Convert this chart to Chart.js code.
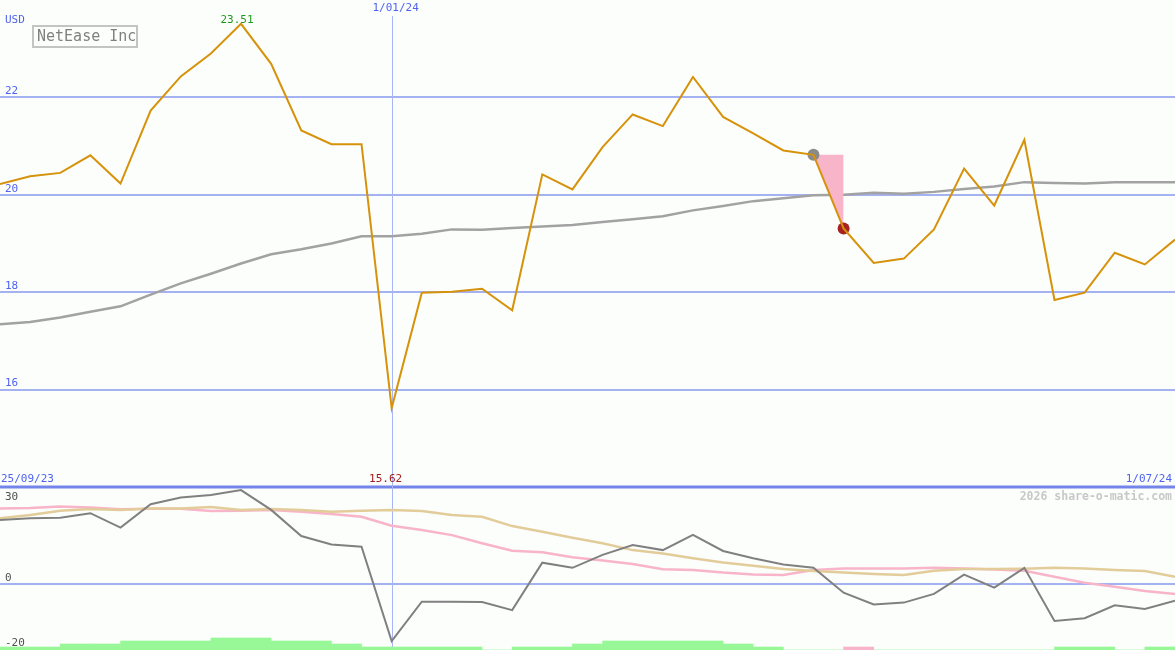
<!DOCTYPE html>
<html>
<head>
<meta charset="utf-8">
<script src="https://cdn.jsdelivr.net/npm/chart.js@4/dist/chart.umd.min.js"></script>
<style>
  html,body{margin:0;padding:0;background:#fcfefc}
  #wrap{position:relative;width:1175px;height:650px}
</style>
</head>
<body>
<div id="wrap"><canvas id="c" width="1175" height="650"></canvas></div>
<script>
// 週足データ（インデックス 0..39）
const price = [20.22,20.38,20.45,20.81,20.23,21.73,22.43,22.90,23.51,22.69,21.32,21.04,21.04,15.62,17.99,18.01,18.07,17.63,20.42,20.11,
  20.98,21.65,21.41,22.42,21.60,21.26,20.91,20.82,19.31,18.60,18.69,19.29,20.54,19.78,21.13,17.84,17.99,18.81,18.57,19.08];
const priceAvg = [17.34,17.39,17.48,17.60,17.71,17.95,18.18,18.38,18.59,18.78,18.88,19.00,19.15,19.15,19.20,19.29,19.28,19.32,19.35,19.38,
  19.44,19.50,19.56,19.68,19.77,19.87,19.93,19.99,20.00,20.04,20.02,20.06,20.12,20.17,20.26,20.24,20.23,20.26,20.26,20.26];
const oscLine = [21.3,21.9,22.1,23.6,18.8,26.6,28.8,29.7,31.3,24.7,16.0,13.2,12.4,-19.0,-5.9,-5.9,-6.0,-8.7,7.1,5.4,
  9.7,13.0,11.3,16.4,11.0,8.6,6.5,5.4,-2.9,-6.8,-6.2,-3.3,3.1,-1.2,5.4,-12.3,-11.4,-7.1,-8.3,-5.6];
const oscPink = [25.2,25.3,25.8,25.5,24.9,25.1,25.1,24.3,24.4,24.7,24.1,23.3,22.4,19.4,18.0,16.3,13.6,11.1,10.6,8.9,
  7.8,6.7,4.9,4.7,3.8,3.2,3.0,4.7,5.2,5.2,5.2,5.4,5.2,4.8,4.4,2.4,0.4,-0.9,-2.3,-3.3];
const oscTan = [21.9,23.0,24.4,25.0,24.7,25.2,25.2,25.7,24.7,25.0,24.7,24.1,24.4,24.7,24.3,23.0,22.4,19.3,17.4,15.4,
  13.6,11.3,10.2,8.6,7.2,6.1,5.0,4.3,3.8,3.3,3.0,4.4,5.0,5.0,5.1,5.4,5.2,4.7,4.3,2.4];
// 区間ごとのヒストグラム（負はピンク）
const histo = [1,1,2,2,3,3,3,4,4,3,3,2,1,1,1,1,0,1,1,2,3,3,3,3,2,1,0,0,-1,0,0,0,0,0,0,1,1,0,1];
const topTicks = [16,18,20,22];
const bottomTicks = [30,0,-20];
const dateMarks = [['25/09/23',0],['1/01/24',13],['1/07/24',39]];
const signalFrom = 27, signalTo = 28;

const pts = arr => arr.map((v, i) => ({ x: i, y: v }));
const MONO = '"DejaVu Sans Mono", "Liberation Mono", monospace';

const panelPlugin = {
  id: 'panels',
  beforeDraw(chart) {
    const { ctx } = chart;
    ctx.save();
    ctx.fillStyle = '#fcfefc';
    ctx.fillRect(0, 0, chart.width, chart.height);
    ctx.restore();
  },
  beforeDatasetsDraw(chart) {
    const { ctx, scales: { x, yTop, yBot } } = chart;
    ctx.save();
    ctx.strokeStyle = '#a4b2f2';
    ctx.lineWidth = 2;
    topTicks.forEach(v => {
      const y = Math.round(yTop.getPixelForValue(v));
      ctx.beginPath(); ctx.moveTo(0, y); ctx.lineTo(chart.width, y); ctx.stroke();
    });
    const y0 = Math.round(yBot.getPixelForValue(0));
    ctx.beginPath(); ctx.moveTo(0, y0); ctx.lineTo(chart.width, y0); ctx.stroke();
    // 仕切り線
    const ySep = yTop.getPixelForValue(14);
    ctx.strokeStyle = '#7385ea';
    ctx.lineWidth = 3;
    ctx.beginPath(); ctx.moveTo(0, ySep); ctx.lineTo(chart.width, ySep); ctx.stroke();
    // 年初の縦線
    const xm = Math.round(x.getPixelForValue(dateMarks[1][1])) + 0.5;
    ctx.strokeStyle = '#a8b6f8';
    ctx.lineWidth = 1;
    ctx.beginPath(); ctx.moveTo(xm, 16); ctx.lineTo(xm, chart.height); ctx.stroke();
    ctx.restore();
  },
  afterDatasetsDraw(chart) {
    const { ctx, scales: { x, yTop, yBot } } = chart;
    const ySep = yTop.getPixelForValue(14);
    ctx.save();
    ctx.textBaseline = 'middle';
    ctx.font = '11px ' + MONO;
    ctx.fillStyle = '#4f63f0';
    ctx.textAlign = 'left';
    ctx.fillText('USD', 5, 20);
    topTicks.forEach(v => ctx.fillText(String(v), 5, yTop.getPixelForValue(v) - 6));
    bottomTicks.forEach(v => {
      const off = v === 0 ? -6 : (v > 0 ? 3 : -1);
      ctx.fillStyle = '#505050';
      ctx.fillText(String(v), 5, yBot.getPixelForValue(v) + off);
    });
    // 日付
    ctx.fillStyle = '#4f63f0';
    ctx.textAlign = 'left';
    ctx.fillText(dateMarks[0][0], 1, ySep - 8);
    ctx.textAlign = 'center';
    ctx.fillText(dateMarks[1][0], x.getPixelForValue(dateMarks[1][1]) + 4, 8);
    ctx.textAlign = 'right';
    ctx.fillText(dateMarks[2][0], chart.width - 3, ySep - 8);
    // 高値・安値
    const hi = Math.max(...price), lo = Math.min(...price);
    const hiI = price.indexOf(hi), loI = price.indexOf(lo);
    ctx.textAlign = 'center';
    ctx.fillStyle = '#1f9a1f';
    ctx.fillText(hi.toFixed(2), x.getPixelForValue(hiI) - 4, 20);
    ctx.fillStyle = '#a01c1c';
    ctx.fillText(lo.toFixed(2), x.getPixelForValue(loI) - 6, ySep - 8);
    // 銘柄名
    ctx.strokeStyle = '#c4c4c4';
    ctx.lineWidth = 2;
    ctx.strokeRect(33, 26, 104, 21);
    ctx.font = '15px ' + MONO;
    ctx.fillStyle = '#808080';
    ctx.textAlign = 'left';
    ctx.fillText('NetEase Inc', 37, 37);
    ctx.font = 'bold 11.5px ' + MONO;
    ctx.fillStyle = '#c8c8c8';
    ctx.textAlign = 'right';
    ctx.fillText('2026 share-o-matic.com', chart.width - 3, ySep + 10);
    ctx.restore();
  }
};

const line = (data, color, width, axis, order) => ({
  type: 'line', data: pts(data), yAxisID: axis, borderColor: color, borderWidth: width,
  pointRadius: 0, tension: 0, fill: false, order
});

new Chart(document.getElementById('c'), {
  type: 'line',
  data: {
    datasets: [
      line(price, '#d6920a', 2, 'yTop', 1),
      {
        type: 'scatter', yAxisID: 'yTop', order: 2,
        data: [{ x: signalFrom, y: price[signalFrom] }, { x: signalTo, y: price[signalTo] }],
        pointRadius: 6, pointBorderWidth: 0,
        pointBackgroundColor: ['#8a8a8a', '#a82222'], showLine: false
      },
      {
        type: 'line', yAxisID: 'yTop', order: 4,
        data: [{ x: signalFrom, y: price[signalFrom] }, { x: signalTo, y: price[signalFrom] }],
        borderWidth: 0, pointRadius: 0, fill: false
      },
      {
        type: 'line', yAxisID: 'yTop', order: 3,
        data: [{ x: signalFrom, y: price[signalFrom] }, { x: signalTo, y: price[signalTo] }],
        borderWidth: 0, pointRadius: 0, fill: '-1', backgroundColor: '#f8b4c8'
      },
      line(priceAvg, '#a2a2a2', 2.5, 'yTop', 5),
      line(oscLine, '#808080', 2, 'yBot', 6),
      line(oscTan, '#e2cc9a', 2.5, 'yBot', 7),
      line(oscPink, '#f8b4c8', 2.5, 'yBot', 8),
      {
        type: 'bar', yAxisID: 'yHist', order: 9,
        data: histo.map((v, i) => ({ x: i + 0.5, y: Math.abs(v) })),
        backgroundColor: histo.map(v => v < 0 ? '#f8b4c8' : '#98f898'),
        borderWidth: 0, barPercentage: 1, categoryPercentage: 1
      }
    ]
  },
  options: {
    responsive: false, animation: false, devicePixelRatio: 1,
    layout: { padding: 0, autoPadding: false },
    plugins: { legend: { display: false }, tooltip: { enabled: false } },
    scales: {
      x: { type: 'linear', min: 0, max: price.length - 1, offset: false, display: false },
      // 上段 14..24 を 0..487px に
      yTop: { type: 'linear', min: 24 - 650 / 48.7, max: 24, display: false },
      // 下段 0 を 584px, 3px/単位
      yBot: { type: 'linear', min: -22, max: 584 / 3, display: false },
      yHist: { type: 'linear', min: 0, max: 650 / 3, display: false }
    }
  },
  plugins: [panelPlugin]
});
</script>
</body>
</html>
